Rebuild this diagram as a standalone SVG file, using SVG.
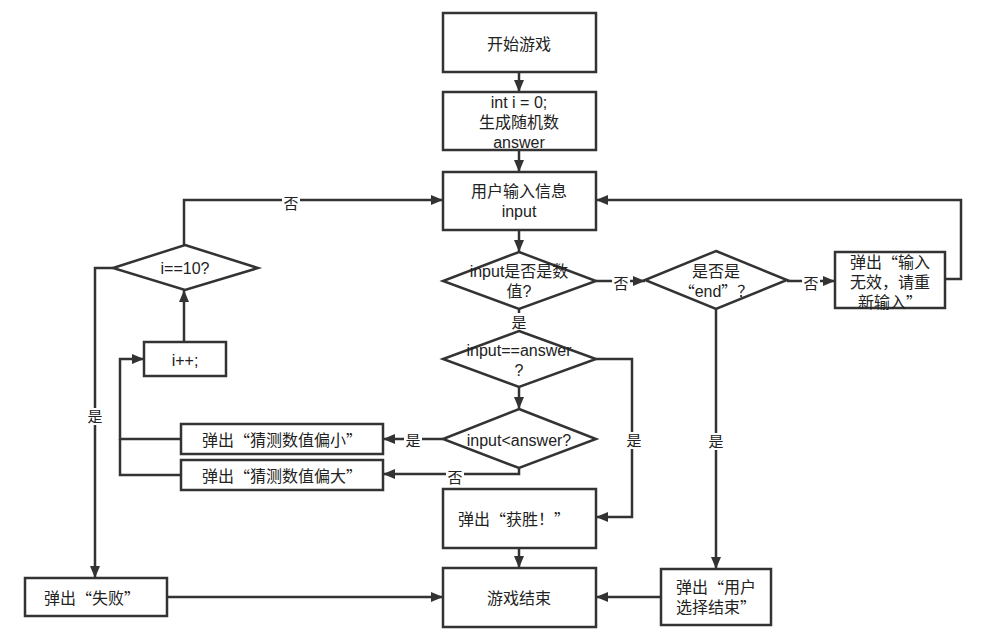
<svg xmlns="http://www.w3.org/2000/svg" width="984" height="640" viewBox="0 0 984 640">
<style>
.n{fill:#fff;stroke:#333;stroke-width:2.5}
.c{fill:none;stroke:#333;stroke-width:2.5}
text{font-family:"Liberation Sans","Noto Sans CJK SC",sans-serif;font-size:16px;fill:#222;text-anchor:middle;dominant-baseline:central}
.q{font-family:"Noto Sans CJK SC",sans-serif}
.l{font-size:15px}
.lb{fill:#fff;stroke:none}
</style>
<defs>
<marker id="a" viewBox="0 0 12 10" refX="12" refY="5" markerWidth="12" markerHeight="10" markerUnits="userSpaceOnUse" orient="auto">
<path d="M0,0 L12,5 L0,10 z" fill="#333"/>
</marker>
</defs>
<rect width="984" height="640" fill="#fff"/>
<g id="connectors">
<path class="c" d="M519,72 V92" marker-end="url(#a)"/>
<path class="c" d="M519,150 V172" marker-end="url(#a)"/>
<path class="c" d="M519,230 V252" marker-end="url(#a)"/>
<path class="c" d="M519,309 V331"/>
<path class="c" d="M519,387 V409" marker-end="url(#a)"/>
<path class="c" d="M596,281 H645" marker-end="url(#a)"/>
<path class="c" d="M787,281 H835" marker-end="url(#a)"/>
<path class="c" d="M945,279 H961 V200 H596" marker-end="url(#a)"/>
<path class="c" d="M716,309 V569" marker-end="url(#a)"/>
<path class="c" d="M661,597 H596" marker-end="url(#a)"/>
<path class="c" d="M596,359 H632 V517 H596" marker-end="url(#a)"/>
<path class="c" d="M519,548 V568" marker-end="url(#a)"/>
<path class="c" d="M443,439 H383" marker-end="url(#a)"/>
<path class="c" d="M519,468 V474 H383" marker-end="url(#a)"/>
<path class="c" d="M181,439 H120 V359 H144" marker-end="url(#a)"/>
<path class="c" d="M181,475 H120 V439"/>
<path class="c" d="M184,342 V290" marker-end="url(#a)"/>
<path class="c" d="M184,245 V200 H443" marker-end="url(#a)"/>
<path class="c" d="M113,268 H95 V578" marker-end="url(#a)"/>
<path class="c" d="M167,597 H443" marker-end="url(#a)"/>
<rect class="lb" x="511" y="313" width="16" height="17"/><text class="l" x="519" y="322">是</text>
<rect class="lb" x="612" y="274" width="18" height="17"/><text class="l" x="621" y="283">否</text>
<rect class="lb" x="802" y="274" width="18" height="17"/><text class="l" x="811" y="283">否</text>
<rect class="lb" x="626" y="432" width="16" height="17"/><text class="l" x="634" y="440">是</text>
<rect class="lb" x="708" y="433" width="16" height="17"/><text class="l" x="716" y="441">是</text>
<rect class="lb" x="404" y="431" width="18" height="17"/><text class="l" x="413" y="440">是</text>
<rect class="lb" x="446" y="469" width="18" height="17"/><text class="l" x="455" y="477">否</text>
<rect class="lb" x="87" y="408" width="16" height="17"/><text class="l" x="95" y="416">是</text>
<rect class="lb" x="282" y="195" width="18" height="17"/><text class="l" x="291" y="203">否</text>
</g>
<g id="start"><rect class="n" x="443" y="13" width="153" height="59"/><text x="519" y="44">开始游戏</text></g>
<g id="init"><rect class="n" x="443" y="92" width="153" height="58"/><text x="519" y="102">int i = 0;</text><text x="519" y="122">生成随机数</text><text x="519" y="142">answer</text></g>
<g id="input"><rect class="n" x="443" y="172" width="153" height="58"/><text x="519" y="191">用户输入信息</text><text x="519" y="211">input</text></g>
<g id="isnum"><polygon class="n" points="519,252 596,281 519,309 443,281"/><text x="519" y="271">input是否是数</text><text x="519" y="291">值?</text></g>
<g id="isend"><polygon class="n" points="716,251 787,280 716,309 645,280"/><text x="716" y="271">是否是</text><text x="716" y="291"><tspan class="q">“</tspan>end<tspan class="q">”</tspan>？</text></g>
<g id="invalid"><rect class="n" x="835" y="252" width="110" height="56"/><text x="890" y="262">弹出<tspan class="q">“</tspan>输入</text><text x="890" y="282">无效，请重</text><text x="890" y="302">新输入<tspan class="q">”</tspan></text></g>
<g id="eq"><polygon class="n" points="519,331 596,359 519,387 443,359"/><text x="519" y="350">input==answer</text><text x="519" y="370">?</text></g>
<g id="lt"><polygon class="n" points="519,409 596,439 519,468 443,439"/><text x="519" y="440">input&lt;answer?</text></g>
<g id="small"><rect class="n" x="181" y="424" width="202" height="30"/><text x="282" y="440">弹出<tspan class="q">“</tspan>猜测数值偏小<tspan class="q">”</tspan></text></g>
<g id="big"><rect class="n" x="181" y="460" width="202" height="30"/><text x="282" y="476">弹出<tspan class="q">“</tspan>猜测数值偏大<tspan class="q">”</tspan></text></g>
<g id="inc"><rect class="n" x="144" y="342" width="82" height="34"/><text x="185" y="360">i++;</text></g>
<g id="ten"><polygon class="n" points="185,245 258,268 185,290 113,268"/><text x="185" y="268">i==10?</text></g>
<g id="fail"><rect class="n" x="25" y="578" width="142" height="38"/><text x="92" y="598">弹出<tspan class="q">“</tspan>失败<tspan class="q">”</tspan></text></g>
<g id="win"><rect class="n" x="443" y="489" width="153" height="59"/><text x="514" y="519">弹出<tspan class="q">“</tspan>获胜！<tspan class="q">”</tspan></text></g>
<g id="end"><rect class="n" x="443" y="568" width="153" height="59"/><text x="519" y="598">游戏结束</text></g>
<g id="userend"><rect class="n" x="661" y="569" width="110" height="56"/><text x="716" y="587">弹出<tspan class="q">“</tspan>用户</text><text x="716" y="607">选择结束<tspan class="q">”</tspan></text></g>
</svg>
